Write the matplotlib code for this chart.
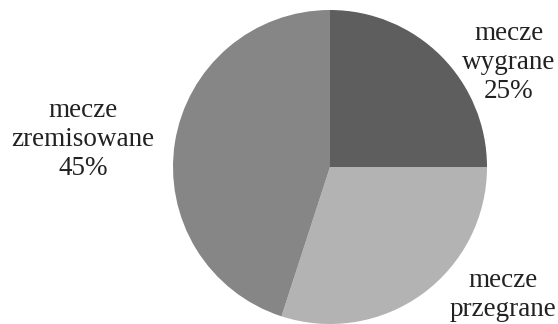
import matplotlib
matplotlib.use("Agg")
import matplotlib.pyplot as plt

categories = ["mecze\nwygrane", "mecze\nprzegrane", "mecze\nzremisowane"]
shares = [25, 30, 45]
show_pct = [True, False, True]  # the przegrane percentage falls off the bottom edge
colors = ["#5e5e5e", "#b3b3b3", "#868686"]

W, H = 558, 324
fig = plt.figure(figsize=(W / 100, H / 100), dpi=100)
ax = fig.add_axes([0, 0, 1, 1])

ax.pie(shares, colors=colors, startangle=90, counterclock=False,
       center=(330, H - 167), radius=157, frame=True,
       wedgeprops={"linewidth": 0})
ax.set_xlim(0, W)
ax.set_ylim(0, H)
ax.set_aspect("equal")
ax.axis("off")

# label positions: (x, last-line baseline) in pixels from top
label_pos = [(509, 98), (503, 316), (83, 175)]
for name, share, pct, (x, y) in zip(categories, shares, show_pct, label_pos):
    text = f"{name}\n{share}%" if pct else name
    ax.text(x, H - y, text, ha="center", va="baseline",
            multialignment="center", fontsize=19.5, linespacing=1.2,
            family="Liberation Serif", color="#222222")

fig.savefig("out.png", dpi=100)
